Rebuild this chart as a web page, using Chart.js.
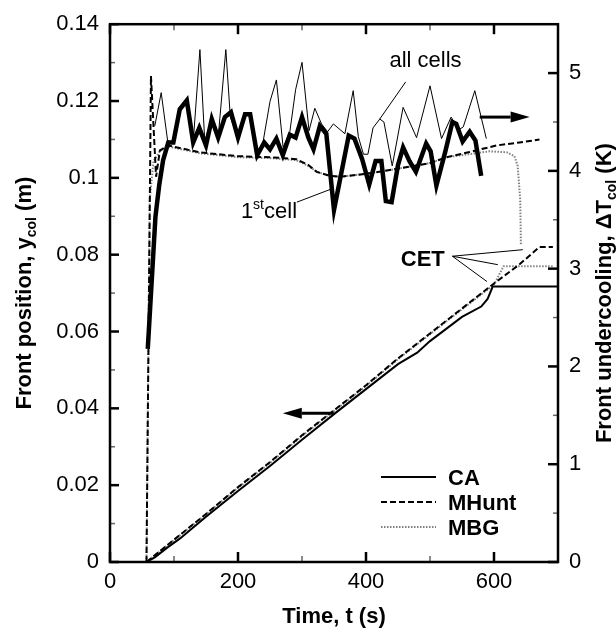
<!DOCTYPE html>
<html>
<head>
<meta charset="utf-8">
<script src="https://cdn.jsdelivr.net/npm/chart.js@4.4.1/dist/chart.umd.min.js"></script>
<style>
  html, body { margin: 0; padding: 0; background: #fff; }
  #wrap { width: 616px; height: 629px; }
</style>
</head>
<body>
<div id="wrap"><canvas id="frontChart" width="616" height="629"></canvas></div>
<script>
// front position (m) vs time (s), left axis
const caPosT = [57, 70, 90, 110, 150, 200, 250, 300, 350, 400, 450, 480, 500, 550, 580, 590, 598, 700];
const caPosY = [0, 0.0012, 0.0038, 0.0062, 0.0118, 0.0185, 0.025, 0.0318, 0.0385, 0.045, 0.0515, 0.0545, 0.0575, 0.0638, 0.0665, 0.0685, 0.0717, 0.0717];
const mhPosT = [57, 100, 150, 200, 250, 300, 350, 400, 450, 500, 550, 600, 640, 671, 692];
const mhPosY = [0, 0.0058, 0.0125, 0.0195, 0.026, 0.033, 0.0395, 0.046, 0.053, 0.0595, 0.066, 0.0725, 0.0775, 0.082, 0.082];
const mbgPosT = [57, 100, 150, 200, 250, 300, 350, 400, 450, 500, 550, 600, 615, 692];
const mbgPosY = [0, 0.0057, 0.0124, 0.0193, 0.0258, 0.0328, 0.0393, 0.0458, 0.0528, 0.0593, 0.0658, 0.0722, 0.077, 0.077];

// front undercooling (K) vs time (s), right axis
const firstCellT = [59, 71, 77, 83, 91, 99, 109, 120, 130, 139.5, 150, 159, 169, 179.5, 189, 200, 211, 219, 230, 241, 250, 260, 270, 281, 290, 300, 310, 318, 328, 338, 350, 373, 382, 394, 405, 415, 424, 431, 440, 450, 458, 468, 478, 494, 501, 510, 524, 535, 541, 551, 562, 571, 580];
const firstCellV = [2.18, 3.53, 3.86, 4.11, 4.29, 4.29, 4.63, 4.72, 4.29, 4.44, 4.26, 4.53, 4.34, 4.55, 4.60, 4.34, 4.58, 4.58, 4.16, 4.29, 4.22, 4.33, 4.16, 4.37, 4.34, 4.55, 4.34, 4.22, 4.46, 4.38, 3.60, 4.36, 4.33, 4.12, 3.86, 4.10, 4.10, 3.69, 3.68, 4.06, 4.24, 4.10, 3.99, 4.28, 4.20, 3.85, 4.20, 4.50, 4.48, 4.30, 4.40, 4.31, 3.95];
const allCellsT = [70, 80, 90, 99, 109, 120, 130, 140.5, 148, 159, 169, 181, 188, 200, 211, 219, 229, 239, 250, 260, 270.5, 281, 290, 300, 311, 320, 330.5, 340, 349, 367, 380, 388, 396, 403, 411, 421.5, 428, 441, 458, 479, 500, 518, 533, 545, 552, 570, 588];
const allCellsV = [4.46, 4.80, 4.31, 4.29, 4.63, 4.72, 4.29, 5.24, 4.31, 4.53, 4.34, 5.24, 4.55, 4.34, 4.58, 4.58, 4.17, 4.29, 4.71, 4.93, 4.24, 4.40, 4.83, 5.11, 4.41, 4.64, 4.48, 4.40, 4.48, 4.38, 4.82, 4.35, 4.17, 4.17, 4.44, 4.53, 4.50, 4.05, 4.65, 4.34, 4.87, 4.33, 4.55, 4.42, 4.45, 4.82, 4.33];
const mhDtT = [57, 64, 72, 78, 91, 140, 200, 250, 291, 310, 323, 343, 360, 400, 448, 500, 526, 560, 604, 640, 671];
const mhDtV = [0, 4.97, 3.94, 4.21, 4.26, 4.19, 4.15, 4.14, 4.12, 4.06, 3.99, 3.95, 3.94, 3.97, 4.02, 4.08, 4.14, 4.19, 4.26, 4.29, 4.32];
const mbgDtT = [57, 62, 68, 78, 91, 140, 200, 250, 291, 310, 323, 343, 360, 400, 448, 500, 526, 560, 593, 620, 632, 637, 641, 642];
const mbgDtV = [0, 3.7, 4.1, 4.2, 4.25, 4.18, 4.14, 4.13, 4.11, 4.05, 3.99, 3.95, 3.94, 3.97, 4.02, 4.08, 4.14, 4.17, 4.2, 4.19, 4.15, 4.05, 3.7, 3.25];

const legendNames = ['CA', 'MHunt', 'MBG'];

const DASH = [6, 3];
const DOT = [1.5, 1.5];
const TXT = '"Liberation Sans", Arial, sans-serif';

function pts(ts, vs) {
    return ts.map((t, i) => ({ x: t, y: vs[i] }));
}

// draws a run of text pieces (for sub/superscripts) starting at x
function drawParts(ctx, parts, x, y) {
    parts.forEach(p => {
        ctx.font = p[1];
        ctx.fillText(p[0], x, y + (p[2] || 0));
        x += ctx.measureText(p[0]).width;
    });
}
function partsWidth(ctx, parts) {
    let w = 0;
    parts.forEach(p => { ctx.font = p[1]; w += ctx.measureText(p[0]).width; });
    return w;
}

function arrow(ctx, x1, y1, x2, y2) {
    const ang = Math.atan2(y2 - y1, x2 - x1);
    const hl = 19, hw = 5.5;
    const bx = x2 - hl * Math.cos(ang), by = y2 - hl * Math.sin(ang);
    ctx.lineWidth = 3;
    ctx.beginPath(); ctx.moveTo(x1, y1); ctx.lineTo(bx, by); ctx.stroke();
    ctx.beginPath();
    ctx.moveTo(x2, y2);
    ctx.lineTo(bx + hw * Math.sin(ang), by - hw * Math.cos(ang));
    ctx.lineTo(bx - hw * Math.sin(ang), by + hw * Math.cos(ang));
    ctx.closePath(); ctx.fill();
}

const decorations = {
    id: 'decorations',
    afterDatasetsDraw(chart) {
        const { ctx, chartArea: a, scales } = chart;
        const xs = scales.x, yl = scales.y, yr = scales.y2;
        const X = t => xs.getPixelForValue(t);
        const YL = v => yl.getPixelForValue(v);
        const YR = v => yr.getPixelForValue(v);
        const line = (x1, y1, x2, y2) => { ctx.beginPath(); ctx.moveTo(x1, y1); ctx.lineTo(x2, y2); ctx.stroke(); };

        ctx.save();
        ctx.lineCap = 'butt';
        // inward tick marks on all four sides
        for (let i = 0; i <= 7; i++) {
            const major = i % 2 === 0, px = X(i * 100), len = major ? 10 : 6;
            ctx.strokeStyle = major ? '#000' : '#666'; ctx.lineWidth = major ? 2.5 : 1.5;
            line(px, a.bottom, px, a.bottom - len);
            line(px, a.top, px, a.top + len);
        }
        for (let i = 0; i <= 14; i++) {
            const major = i % 2 === 0, py = YL(i * 0.01), len = major ? 9 : 5;
            ctx.strokeStyle = major ? '#000' : '#666'; ctx.lineWidth = major ? 2.5 : 1.5;
            line(a.left, py, a.left + len, py);
        }
        for (let i = 0; i <= 11; i++) {
            const major = i % 2 === 0, py = YR(i * 0.5), len = major ? 10 : 5;
            ctx.strokeStyle = major ? '#000' : '#666'; ctx.lineWidth = major ? 2.5 : 1.5;
            line(a.right, py, a.right - len, py);
        }
        // frame
        ctx.strokeStyle = '#000'; ctx.lineWidth = 2.5;
        ctx.strokeRect(a.left, a.top, a.right - a.left, a.bottom - a.top);

        ctx.fillStyle = '#000';
        ctx.textBaseline = 'alphabetic';
        const B = 'bold 22px ' + TXT, Bs = 'bold 14px ' + TXT;
        const N = '22px ' + TXT, Ns = '14px ' + TXT;

        // axis titles
        const xt = [['Time, t (s)', B]];
        ctx.textAlign = 'left';
        drawParts(ctx, xt, (a.left + a.right) / 2 - partsWidth(ctx, xt) / 2, 623);

        const cy = (a.top + a.bottom) / 2;
        const lt = [['Front position, y', B], ['col', Bs, 5], [' (m)', B]];
        ctx.save(); ctx.translate(31, cy); ctx.rotate(-Math.PI / 2);
        drawParts(ctx, lt, -partsWidth(ctx, lt) / 2, 0); ctx.restore();

        const rt = [['Front undercooling, \u0394T', B], ['col', Bs, 5], [' (K)', B]];
        ctx.save(); ctx.translate(611, cy); ctx.rotate(-Math.PI / 2);
        drawParts(ctx, rt, -partsWidth(ctx, rt) / 2, 0); ctx.restore();

        // annotations
        ctx.textAlign = 'left';
        const ac = [['all cells', N]];
        drawParts(ctx, ac, X(493) - partsWidth(ctx, ac) / 2, YR(5.14) + 8);
        drawParts(ctx, [['1', N], ['st', Ns, -9], ['cell', N]], X(204.5), YR(3.52));
        const cet = [['CET', B]];
        drawParts(ctx, cet, X(488.7) - partsWidth(ctx, cet) / 2, YL(0.0792) + 8);

        ctx.strokeStyle = '#000'; ctx.lineWidth = 1;
        line(X(462), YR(4.91), X(421.5), YR(4.53));
        line(X(292), YR(3.68), X(348), YR(3.82));
        [[645, 0.0813], [606, 0.0774], [589, 0.073]].forEach(p => line(X(535), YL(0.0796), X(p[0]), YL(p[1])));

        arrow(ctx, X(577.7), YR(4.55), X(655.7), YR(4.55));
        arrow(ctx, X(349.7), YL(0.0387), X(270), YL(0.0387));

        // legend for the position curves
        const ds = chart.data.datasets;
        legendNames.forEach((name, i) => {
            const d = ds.find(s => s.label === name);
            const ly = 477 + i * 25;
            ctx.save();
            ctx.strokeStyle = d.borderColor; ctx.lineWidth = d.borderWidth;
            ctx.setLineDash(d.borderDash || []);
            line(381, ly, 436, ly);
            ctx.restore();
            drawParts(ctx, [[name, B]], 448, ly + 8);
        });
        ctx.restore();
    }
};

const line = (label, t, v, axis, color, width, dash) => ({
    label: label,
    data: pts(t, v),
    yAxisID: axis,
    borderColor: color,
    borderWidth: width,
    borderDash: dash,
    pointRadius: 0,
    fill: false,
    tension: 0
});

const ctx = document.getElementById('frontChart');
const frontChart = new Chart(ctx, {
    type: 'line',
    data: {
        datasets: [
            line('1st cell', firstCellT, firstCellV, 'y2', '#000', 4.5, []),
            line('CA', caPosT, caPosY, 'y', '#000', 2, []),
            line('all cells', allCellsT, allCellsV, 'y2', '#000', 1, []),
            line('MHunt', mhPosT, mhPosY, 'y', '#000', 2, DASH),
            line('MHunt dT', mhDtT, mhDtV, 'y2', '#000', 2, DASH),
            line('MBG', mbgPosT, mbgPosY, 'y', '#808080', 2, DOT),
            line('MBG dT', mbgDtT, mbgDtV, 'y2', '#808080', 2, DOT)
        ]
    },
    options: {
        responsive: false,
        animation: false,
        devicePixelRatio: 1,
        events: [],
        layout: { padding: { top: 19, left: 0, right: 0, bottom: 0 } },
        plugins: {
            legend: { display: false },
            tooltip: { enabled: false }
        },
        scales: {
            x: {
                type: 'linear',
                min: 0,
                max: 700,
                grid: { display: false, drawTicks: false },
                border: { display: false },
                ticks: {
                    stepSize: 100,
                    autoSkip: false,
                    maxRotation: 0,
                    padding: 7,
                    color: '#000',
                    font: { family: TXT, size: 22 },
                    callback: v => (v % 200 === 0 ? String(v) : '')
                },
                afterFit: s => { s.height = 67; }
            },
            y: {
                position: 'left',
                min: 0,
                max: 0.14,
                grid: { display: false, drawTicks: false },
                border: { display: false },
                ticks: {
                    stepSize: 0.01,
                    autoSkip: false,
                    padding: 11,
                    color: '#000',
                    font: { family: TXT, size: 22 },
                    callback: v => {
                        const k = Math.round(v * 100);
                        return k % 2 === 0 ? String(k / 100) : '';
                    }
                },
                afterFit: s => { s.width = 110; }
            },
            y2: {
                position: 'right',
                min: 0,
                max: 5.5,
                grid: { display: false, drawTicks: false },
                border: { display: false },
                ticks: {
                    stepSize: 0.5,
                    autoSkip: false,
                    padding: 11,
                    color: '#000',
                    font: { family: TXT, size: 22 },
                    callback: v => (Number.isInteger(v) ? String(v) : '')
                },
                afterFit: s => { s.width = 58; }
            }
        }
    },
    plugins: [decorations]
});
</script>
</body>
</html>
